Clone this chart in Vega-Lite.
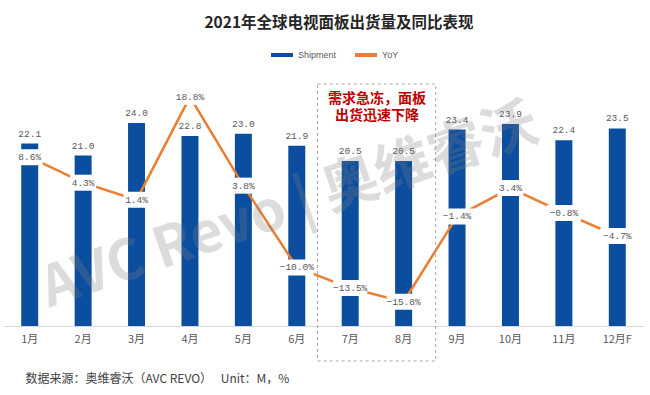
{
  "$schema": "https://vega.github.io/schema/vega-lite/v6.json",
  "width": 641,
  "height": 241,
  "autosize": {"type": "none"},
  "padding": {"left": 3, "top": 85, "right": 6, "bottom": 69},
  "background": "white",
  "config": {"view": {"stroke": null}, "font": "Noto Sans CJK SC"},
  "title": {
    "text": "2021年全球电视面板出货量及同比表现",
    "font": "Noto Sans CJK SC",
    "fontSize": 15.5,
    "fontWeight": "bold",
    "color": "#262626",
    "anchor": "middle",
    "dx": 15.5,
    "offset": 11
  },
  "data": {
    "values": [
      {"month": "1月", "ship": 22.1, "yoy": 0.086},
      {"month": "2月", "ship": 21.0, "yoy": 0.043},
      {"month": "3月", "ship": 24.0, "yoy": 0.014},
      {"month": "4月", "ship": 22.8, "yoy": 0.188},
      {"month": "5月", "ship": 23.0, "yoy": 0.038},
      {"month": "6月", "ship": 21.9, "yoy": -0.100},
      {"month": "7月", "ship": 20.5, "yoy": -0.135},
      {"month": "8月", "ship": 20.5, "yoy": -0.158},
      {"month": "9月", "ship": 23.4, "yoy": -0.014},
      {"month": "10月", "ship": 23.9, "yoy": 0.034},
      {"month": "11月", "ship": 22.4, "yoy": -0.008},
      {"month": "12月F", "ship": 23.5, "yoy": -0.047}
    ]
  },
  "layer": [
    {
      "mark": {"type": "bar"},
      "encoding": {
        "x": {
          "field": "month", "type": "nominal", "sort": null,
          "scale": {"type": "band", "domain": ["1月", "2月", "3月", "4月", "5月", "6月", "7月", "8月", "9月", "10月", "11月", "12月F"], "paddingInner": 0.682, "paddingOuter": 0.341},
          "axis": {
            "title": "数据来源：奥维睿沃（AVC REVO）　 Unit：M，%",
            "titleFont": "Noto Sans CJK SC", "titleFontSize": 12, "titleFontWeight": "normal",
            "titleColor": "#404040", "titleAnchor": "start", "titleAlign": "left",
            "titleX": 22, "titleY": 52, "titleBaseline": "middle",
            "labelAngle": 0, "labelFont": "Noto Sans CJK SC", "labelFontSize": 11,
            "labelColor": "#595959", "labelPadding": 7, "ticks": false,
            "domainColor": "#d9d9d9", "domainWidth": 1, "grid": false
          }
        },
        "y": {"field": "ship", "type": "quantitative", "scale": {"domain": [5.3, 27.5], "zero": false, "nice": false}, "axis": null},
        "y2": {"datum": 5.3},
        "color": {
          "datum": "Shipment", "type": "nominal",
          "scale": {"domain": ["Shipment", "YoY"], "range": ["#0B4EA0", "#ED7D31"]},
          "legend": {
            "orient": "none", "legendX": 266, "legendY": -43, "direction": "horizontal",
            "title": null, "symbolType": "stroke", "symbolStrokeWidth": 4, "symbolSize": 484,
            "labelFont": "Liberation Sans", "labelFontSize": 9,
            "labelColor": "#595959", "columnPadding": 10, "labelOffset": 3,
            "encode": {"symbols": {"update": {"stroke": {"scale": "color", "field": "value"}, "fill": {"value": "transparent"}, "strokeWidth": {"value": 4}}}}
          }
        }
      }
    },
    {
      "mark": {"type": "line", "strokeWidth": 2.5},
      "encoding": {
        "x": {"field": "month", "type": "nominal", "sort": null, "scale": {"type": "band", "domain": ["1月", "2月", "3月", "4月", "5月", "6月", "7月", "8月", "9月", "10月", "11月", "12月F"], "paddingInner": 0.682, "paddingOuter": 0.341}, "axis": null},
        "y": {"field": "yoy", "type": "quantitative", "scale": {"domain": [-0.199, 0.208], "zero": false, "nice": false}, "axis": null},
        "color": {"datum": "YoY", "type": "nominal"}
      }
    },
    {
      "transform": [{"filter": "datum.yoy >= 0"}],
      "mark": {"type": "rect", "color": "white", "opacity": 1, "width": 26, "height": 16},
      "encoding": {
        "x": {"field": "month", "type": "nominal", "sort": null, "scale": {"type": "band", "domain": ["1月", "2月", "3月", "4月", "5月", "6月", "7月", "8月", "9月", "10月", "11月", "12月F"], "paddingInner": 0.682, "paddingOuter": 0.341}, "axis": null},
        "y": {"field": "yoy", "type": "quantitative", "scale": {"domain": [-0.199, 0.208], "zero": false, "nice": false}, "axis": null}
      }
    },
    {
      "transform": [{"filter": "datum.yoy < 0"}],
      "mark": {"type": "rect", "color": "white", "opacity": 1, "width": 34, "height": 16},
      "encoding": {
        "x": {"field": "month", "type": "nominal", "sort": null, "scale": {"type": "band", "domain": ["1月", "2月", "3月", "4月", "5月", "6月", "7月", "8月", "9月", "10月", "11月", "12月F"], "paddingInner": 0.682, "paddingOuter": 0.341}, "axis": null},
        "y": {"field": "yoy", "type": "quantitative", "scale": {"domain": [-0.199, 0.208], "zero": false, "nice": false}, "axis": null}
      }
    },
    {
      "mark": {"type": "text", "font": "Liberation Mono", "fontSize": 9.5, "color": "#595959", "baseline": "middle"},
      "encoding": {
        "x": {"field": "month", "type": "nominal", "sort": null, "scale": {"type": "band", "domain": ["1月", "2月", "3月", "4月", "5月", "6月", "7月", "8月", "9月", "10月", "11月", "12月F"], "paddingInner": 0.682, "paddingOuter": 0.341}, "axis": null},
        "y": {"field": "yoy", "type": "quantitative", "scale": {"domain": [-0.199, 0.208], "zero": false, "nice": false}, "axis": null},
        "text": {"field": "yoy", "type": "quantitative", "format": ".1%"}
      }
    },
    {
      "mark": {"type": "text", "font": "Liberation Mono", "fontSize": 9.5, "color": "#595959", "baseline": "bottom", "dy": -5},
      "encoding": {
        "x": {"field": "month", "type": "nominal", "sort": null, "scale": {"type": "band", "domain": ["1月", "2月", "3月", "4月", "5月", "6月", "7月", "8月", "9月", "10月", "11月", "12月F"], "paddingInner": 0.682, "paddingOuter": 0.341}, "axis": null},
        "y": {"field": "ship", "type": "quantitative", "scale": {"domain": [5.3, 27.5], "zero": false, "nice": false}, "axis": null},
        "text": {"field": "ship", "type": "quantitative", "format": ".1f"}
      }
    },
    {
      "data": {"values": [{"note": "box"}]},
      "mark": {"type": "rect", "fill": "transparent", "stroke": "#a6a6a6", "strokeWidth": 1, "strokeDash": [3, 3]},
      "encoding": {
        "x": {"datum": 5.89, "type": "quantitative", "scale": {"domain": [0, 12], "zero": false, "nice": false}, "axis": null},
        "x2": {"datum": 8.1},
        "y": {"datum": 27.59, "type": "quantitative", "scale": {"domain": [5.3, 27.5], "zero": false, "nice": false}, "axis": null},
        "y2": {"datum": 2.08}
      }
    },
    {
      "data": {"values": [{"note": "需求急冻，面板\n出货迅速下降"}]},
      "mark": {"type": "text", "font": "Noto Sans CJK SC", "fontSize": 14, "fontWeight": "bold", "color": "#C00000", "baseline": "top", "align": "center", "lineBreak": "\n", "lineHeight": 17},
      "encoding": {
        "x": {"datum": 7.0, "type": "quantitative", "scale": {"domain": [0, 12], "zero": false, "nice": false}, "axis": null},
        "y": {"datum": 26.9, "type": "quantitative", "scale": {"domain": [5.3, 27.5], "zero": false, "nice": false}, "axis": null},
        "text": {"field": "note", "type": "nominal"}
      }
    },
    {
      "data": {"values": [{"note": "AVC Revo | 奥维睿沃"}]},
      "mark": {"type": "text", "font": "Noto Sans CJK SC", "fontSize": 56, "fontWeight": "bold", "color": "#808080", "opacity": 0.27, "angle": -19, "align": "center", "baseline": "middle"},
      "encoding": {
        "x": {"datum": 5.37, "type": "quantitative", "scale": {"domain": [0, 12], "zero": false, "nice": false}, "axis": null},
        "y": {"datum": 16.27, "type": "quantitative", "scale": {"domain": [5.3, 27.5], "zero": false, "nice": false}, "axis": null},
        "text": {"field": "note", "type": "nominal"}
      }
    }
  ],
  "resolve": {"scale": {"x": "independent", "y": "independent", "color": "shared"}}
}
